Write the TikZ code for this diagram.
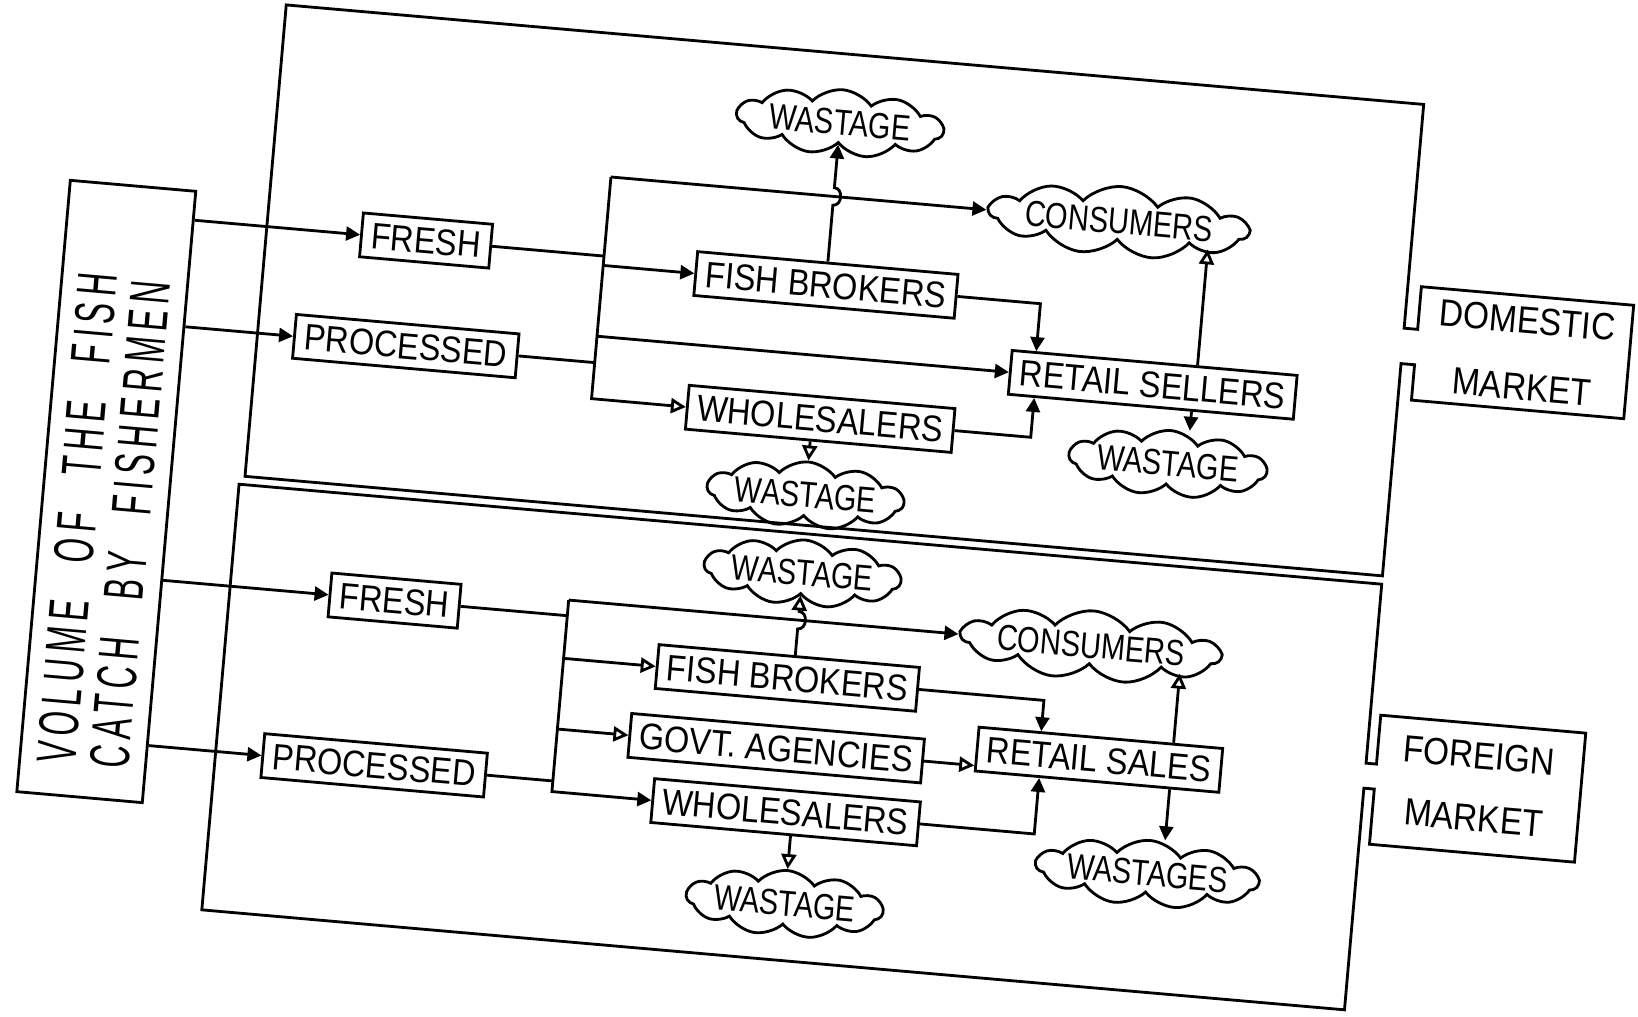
\documentclass[tikz,border=0pt]{standalone}
\usepackage{fontspec}
\setmainfont{Liberation Sans}[FakeStretch=0.88]
\newfontfamily\volfont{Liberation Sans}[FakeStretch=0.56, LetterSpace=11, WordSpace=2.5]
\newfontfamily\cloudfont{Liberation Sans}[FakeStretch=0.8]
\usepackage{graphicx}
\usepackage{tikz}
\usetikzlibrary{positioning}
\usetikzlibrary{arrows.meta}
\usetikzlibrary{shapes.symbols}
\tikzstyle{stage} = [rectangle, draw=black, line width=0.8pt, minimum height=0.44cm, inner xsep=2.8pt, inner ysep=1pt, font=\fontsize{10.5}{12}\selectfont]
\tikzstyle{waste} = [cloud, cloud puffs=11, cloud puff arc=100, cloud ignores aspect, draw=black, line width=0.8pt, inner sep=0pt, minimum height=0.66cm, font=\cloudfont\fontsize{10.3}{12}\selectfont]
\tikzstyle{market} = [align=center, font=\fontsize{10.8}{19}\selectfont]
\tikzstyle{wire} = [line width=0.8pt]
\tikzstyle{arrow} = [line width=0.8pt, -{Triangle[length=1.4mm, width=1.4mm]}]
\tikzstyle{arrowopen} = [line width=0.8pt, -{Triangle[open, length=1.5mm, width=1.5mm]}]

\begin{document}
\begin{tikzpicture}[x=0.010446cm, y=-0.010446cm, node distance=1cm]
\useasboundingbox (0,0) rectangle (1568,973);
\begin{scope}[rotate around={-5:(784,486)}, transform shape]
    % source of the catch
    \node (vol) [rectangle, draw=black, line width=0.8pt, minimum width=1.26cm, minimum height=6.14cm, inner sep=0pt] at (103,530) {\rotatebox{90}{\parbox[c]{5.5cm}{\raggedright\volfont\fontsize{16}{15.2}\selectfont VOLUME OF THE FISH\\CATCH BY FISHERMEN}}};

    % the two market frames
    \draw[wire] (234,504) -- (234,51) -- (1327,51) -- (1327,266) -- (1340,266) -- (1340,225) -- (1544,225) -- (1544,334) -- (1340,334) -- (1340,300) -- (1327,300) -- (1327,504) -- cycle;
    \draw[wire] (229,921) -- (229,512) -- (1327,512) -- (1327,684) -- (1337,684) -- (1337,637) -- (1534,637) -- (1534,761) -- (1337,761) -- (1337,708) -- (1327,708) -- (1327,921) -- cycle;

    % domestic market
    \node (freshDom) [stage] at (387,264) {FRESH};
    \node (procDom) [stage, below of=freshDom, yshift=-0.07cm, xshift=-0.11cm] {PROCESSED};
    \node (brokDom) [stage] at (772,273) {FISH BROKERS};
    \node (wholeDom) [stage, below of=brokDom, yshift=-0.34cm, xshift=0.06cm] {WHOLESALERS};
    \node (wasteDomA) [waste, minimum width=2.07cm, above of=brokDom, yshift=0.63cm] {WASTAGE};
    \node (wasteDomB) [waste, minimum width=1.93cm, below of=wholeDom, yshift=0.23cm, xshift=-0.08cm] {WASTAGE};
    \node (retDom) [stage] at (1092,341) {RETAIL SELLERS};
    \node (consDom) [waste, minimum width=2.35cm, above of=retDom, yshift=0.6cm, xshift=-0.48cm] {CONSUMERS};
    \node (wasteDomC) [waste, minimum width=1.98cm, below of=retDom, yshift=0.23cm, xshift=0.22cm] {WASTAGE};
    \node (domMarket) [market] at (1444,280) {DOMESTIC\\MARKET};

    % foreign market
    \node (freshFor) [stage] at (387,610) {FRESH};
    \node (procFor) [stage, below of=freshFor, yshift=-0.66cm, xshift=-0.06cm] {PROCESSED};
    \node (brokFor) [stage] at (768,651) {FISH BROKERS};
    \node (govFor) [stage, below of=brokFor, yshift=0.29cm, xshift=-0.05cm] {GOVT. AGENCIES};
    \node (wholeFor) [stage, below of=govFor, yshift=0.37cm, xshift=0.15cm] {WHOLESALERS};
    \node (wasteForA) [waste, minimum width=1.96cm, above of=brokFor, yshift=0.06cm, xshift=0.06cm] {WASTAGE};
    \node (wasteForB) [waste, minimum width=1.93cm, below of=wholeFor, yshift=0.09cm, xshift=0.07cm] {WASTAGE};
    \node (retFor) [stage] at (1072,703) {RETAIL SALES};
    \node (consFor) [waste, minimum width=2.35cm, above of=retFor, yshift=0.13cm, xshift=-0.18cm] {CONSUMERS};
    \node (wasteForC) [waste, minimum width=1.93cm, below of=retFor, yshift=-0.09cm, xshift=0.58cm] {WASTAGES};
    \node (forMarket) [market, font=\fontsize{10.8}{17.8}\selectfont] at (1434,697) {FOREIGN\\MARKET};

    \coordinate (busDomTop) at (558,188);
    \coordinate (busDomBot) at (558,401);
    \coordinate (busForTop) at (553,595);
    \coordinate (busForBot) at (553,779);

    % from the catch
    \draw[arrow] (vol.east |- freshDom) -- (freshDom);
    \draw[arrow] (vol.east |- procDom) -- (procDom);
    \draw[arrow] (vol.east |- freshFor) -- (freshFor);
    \draw[arrow] (vol.east |- procFor) -- (procFor);

    % domestic flows
    \draw[wire] (freshDom.east) -- (freshDom.east -| busDomTop);
    \draw[wire] (procDom.east) -- (procDom.east -| busDomTop);
    \draw[arrowopen] (busDomTop) -- (busDomBot) -- (wholeDom);
    \draw[arrow] (busDomTop) -- (consDom);
    \draw[arrow] (busDomTop |- brokDom) -- (brokDom);
    \draw[arrow] (busDomTop |- retDom) -- (retDom);
    \draw[arrow] (brokDom.north -| wasteDomA.south) -- ([yshift=-2.5pt]busDomTop -| wasteDomA.south) .. controls +(9,0) and +(9,0) .. ([yshift=2.5pt]busDomTop -| wasteDomA.south) -- (wasteDomA.south);
    \draw[arrowopen] (wholeDom.south -| wasteDomB.north) -- (wasteDomB.north);
    \draw[arrow] (brokDom.east) -| ([xshift=-1.19cm]retDom.north);
    \draw[arrow] (wholeDom.east) -| ([xshift=-1.17cm]retDom.south);
    \draw[arrowopen] ([xshift=0.43cm]retDom.north) -- ([xshift=0.43cm]retDom.north |- consDom.south);
    \draw[arrow] ([xshift=0.41cm]retDom.south) -- ([xshift=0.41cm]retDom.south |- wasteDomC.north);

    % foreign flows
    \draw[wire] (freshFor.east) -- (freshFor.east -| busForTop);
    \draw[wire] (procFor.east) -- (procFor.east -| busForTop);
    \draw[arrow] (busForTop) -- (busForBot) -- (wholeFor);
    \draw[arrow] (busForTop) -- (consFor);
    \draw[arrowopen] (busForTop |- brokFor) -- (brokFor);
    \draw[arrowopen] (busForTop |- govFor) -- (govFor);
    \draw[arrowopen] (brokFor.north -| wasteForA.south) -- ([yshift=-2.5pt]busForTop -| wasteForA.south) .. controls +(9,0) and +(9,0) .. ([yshift=2.5pt]busForTop -| wasteForA.south) -- (wasteForA.south);
    \draw[arrowopen] (wholeFor.south -| wasteForB.north) -- (wasteForB.north);
    \draw[arrow] (brokFor.east) -| ([xshift=-0.6cm]retFor.north);
    \draw[arrow] (wholeFor.east) -| ([xshift=-0.58cm]retFor.south);
    \draw[arrowopen] (govFor.east) -- (govFor.east -| retFor.west);
    \draw[arrowopen] ([xshift=0.73cm]retFor.north) -- ([xshift=0.73cm]retFor.north |- consFor.south);
    \draw[arrow] ([xshift=0.73cm]retFor.south) -- ([xshift=0.73cm]retFor.south |- wasteForC.north);
\end{scope}
\end{tikzpicture}
\end{document}
